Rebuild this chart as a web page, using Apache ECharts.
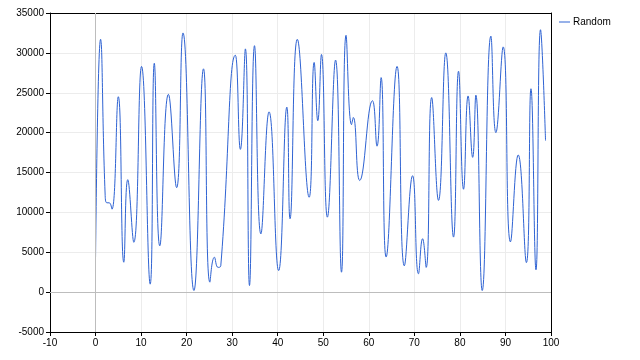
<!DOCTYPE html>
<html>
<head>
<meta charset="utf-8">
<script src="https://cdn.jsdelivr.net/npm/echarts@6/dist/echarts.min.js"></script>
<style>html,body{margin:0;padding:0;background:#fff}#c{width:640px;height:360px}</style>
</head>
<body>
<div id="c"></div>
<script>
var seriesName = 'Random';
var xValues = [0, 1.1, 2.1, 2.5, 3.0, 3.6, 5.0, 6.2, 7.07, 8.4, 10.1, 12.0, 12.9, 14.1, 16.0, 17.8, 19.2, 21.6, 23.7, 25.1, 26.1, 26.9, 27.5, 30.7, 31.8, 32.9, 33.8, 34.9, 36.3, 38.1, 40.2, 42.0, 42.7, 44.3, 46.9, 48.0, 48.8, 49.6, 50.9, 52.7, 54.0, 55.0, 56.2, 56.6, 58.0, 60.8, 61.8, 62.7, 63.8, 66.2, 67.8, 69.6, 70.9, 71.8, 72.6, 73.8, 75.3, 76.9, 78.6, 79.7, 80.8, 81.8, 82.8, 83.5, 84.9, 86.8, 87.9, 89.5, 91.1, 92.8, 94.6, 95.6, 96.7, 97.7, 98.8];
var yValues = [4400, 31700, 12300, 11200, 11200, 10400, 24500, 3750, 14100, 6250, 28300, 1000, 28700, 5800, 24800, 13100, 32500, 200, 28000, 1250, 4375, 3100, 3300, 29700, 17900, 30500, 830, 30900, 7300, 22600, 2700, 23200, 9200, 31700, 11900, 28800, 21500, 29800, 9400, 29100, 2500, 32200, 21000, 21900, 14000, 24000, 18300, 26900, 4400, 28300, 3300, 14600, 2300, 6700, 3100, 24400, 11500, 30000, 6900, 27700, 12900, 24600, 16900, 24700, 200, 32100, 20000, 30750, 6300, 17200, 3700, 25500, 2800, 32900, 19000];
var xTicks = {min: -10, max: 100, interval: 10};
var yTicks = {min: -5000, max: 35000, interval: 5000};

var data = xValues.map(function (x, i) { return [x, yValues[i]]; });
var chart = echarts.init(document.getElementById('c'), null, {renderer: 'canvas'});
var font = 'Liberation Sans, Arial, sans-serif';
var plain = function (v) { return String(v); };
chart.setOption({
  animation: false,
  backgroundColor: '#fff',
  grid: {left: 50, right: 89, top: 13, bottom: 28, containLabel: false, outerBoundsMode: 'none'},
  legend: {
    left: 554, top: 12, orient: 'vertical', icon: 'rect', itemWidth: 11, itemHeight: 1, itemGap: 6,
    textStyle: {fontSize: 10, color: '#000', fontFamily: font, padding: [0, 0, 0, -2]},
    data: [seriesName]
  },
  xAxis: [{
    type: 'value', min: xTicks.min, max: xTicks.max, interval: xTicks.interval,
    axisLine: {onZero: false, lineStyle: {color: '#000', width: 1}},
    axisTick: {show: true, length: 4, lineStyle: {color: '#000'}},
    axisLabel: {color: '#000', fontSize: 10, fontFamily: font, margin: 6, formatter: plain},
    splitLine: {show: true, lineStyle: {color: '#ececec', width: 1}}
  }, {
    type: 'value', position: 'top', min: xTicks.min, max: xTicks.max, interval: xTicks.interval,
    axisLine: {show: true, onZero: false, lineStyle: {color: '#000', width: 1}},
    axisTick: {show: false}, axisLabel: {show: false}, splitLine: {show: false}
  }],
  yAxis: [{
    type: 'value', min: yTicks.min, max: yTicks.max, interval: yTicks.interval,
    axisLine: {show: true, onZero: false, lineStyle: {color: '#000', width: 1}},
    axisTick: {show: true, length: 4, lineStyle: {color: '#000'}},
    axisLabel: {color: '#000', fontSize: 10, fontFamily: font, margin: 6, formatter: plain},
    splitLine: {show: true, lineStyle: {color: '#ececec', width: 1}}
  }, {
    type: 'value', position: 'right', min: yTicks.min, max: yTicks.max, interval: yTicks.interval,
    axisLine: {show: true, onZero: false, lineStyle: {color: '#000', width: 1}},
    axisTick: {show: false}, axisLabel: {show: false}, splitLine: {show: false}
  }],
  series: [{
    name: seriesName, type: 'line', data: data, smooth: 0.5, showSymbol: false, symbol: 'none',
    lineStyle: {color: '#2f63d3', width: 1}, itemStyle: {color: '#2f63d3'},
    markLine: {
      silent: true, symbol: 'none', label: {show: false},
      lineStyle: {color: '#bdbdbd', type: 'solid', width: 1},
      data: [{yAxis: 0}, {xAxis: 0}]
    },
    z: 3
  }]
});
</script>
</body>
</html>
